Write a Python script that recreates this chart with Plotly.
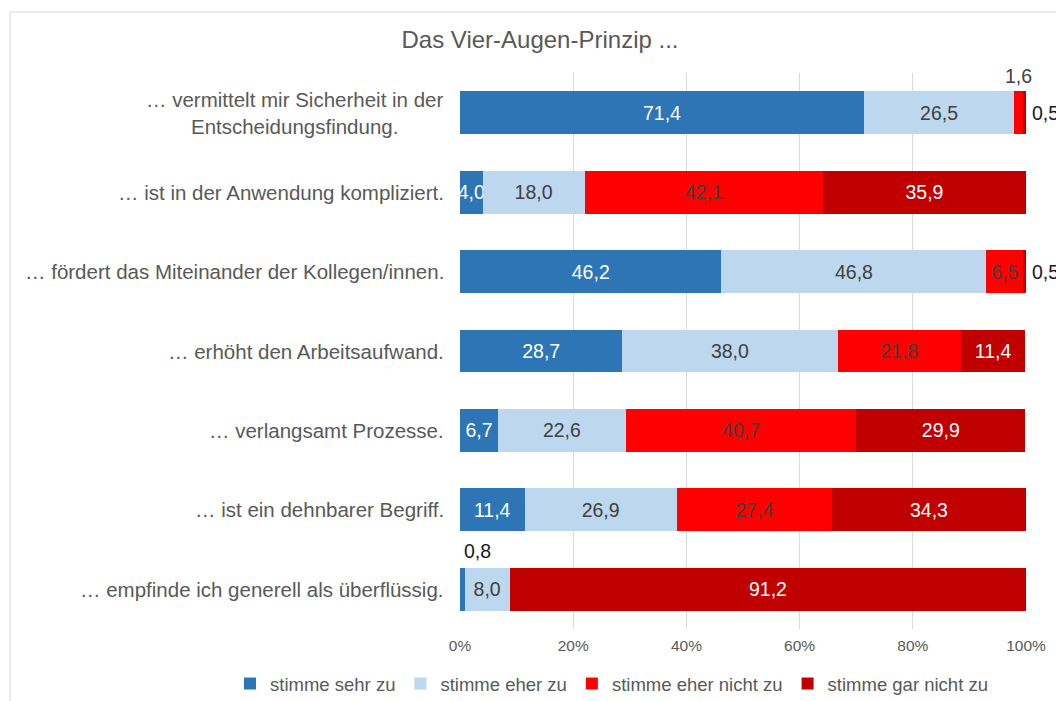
import plotly.graph_objects as go

categories = [
    "… vermittelt mir Sicherheit in der<br>Entscheidungsfindung.",
    "… ist in der Anwendung kompliziert.",
    "… fördert das Miteinander der Kollegen/innen.",
    "… erhöht den Arbeitsaufwand.",
    "… verlangsamt Prozesse.",
    "… ist ein dehnbarer Begriff.",
    "… empfinde ich generell als überflüssig.",
]
series_names = ["stimme sehr zu", "stimme eher zu", "stimme eher nicht zu", "stimme gar nicht zu"]
sehr_zu = [71.4, 4.0, 46.2, 28.7, 6.7, 11.4, 0.8]
eher_zu = [26.5, 18.0, 46.8, 38.0, 22.6, 26.9, 8.0]
eher_nicht = [1.6, 42.1, 6.5, 21.8, 40.7, 27.4, 0.0]
gar_nicht = [0.5, 35.9, 0.5, 11.4, 29.9, 34.3, 91.2]
tick_vals = [0, 20, 40, 60, 80, 100]
tick_text = ["0%", "20%", "40%", "60%", "80%", "100%"]

colors = ["#2E75B6", "#BDD7EE", "#FF0000", "#C00000"]
text_colors = ["#FFFFFF", "#404040", "#404040", "#FFFFFF"]
FONT = "Liberation Sans, Arial, sans-serif"
LBL = 19.5

series = [sehr_zu, eher_zu, eher_nicht, gar_nicht]
fig = go.Figure()

def fmt(v):
    return f"{v:.1f}".replace(".", ",")

outside = []
for si, vals in enumerate(series):
    texts = []
    for ri, v in enumerate(vals):
        if v <= 0:
            texts.append("")
        elif v < 2.0:
            texts.append("")
            outside.append((si, ri))
        else:
            texts.append(fmt(v))
    fig.add_trace(go.Bar(
        y=categories, x=vals, name=series_names[si], orientation="h",
        marker=dict(color=colors[si], line=dict(width=0)),
        text=texts, textposition="inside", insidetextanchor="middle",
        textangle=0,
        textfont=dict(family=FONT, size=LBL, color=text_colors[si]),
        hoverinfo="skip",
    ))

annotations = []
for si, ri in outside:
    v = series[si][ri]
    start = sum(series[k][ri] for k in range(si))
    if si == 3:
        annotations.append(dict(x=start + v, y=categories[ri], xref="x", yref="y",
                                text=fmt(v), showarrow=False, xanchor="left", xshift=4,
                                font=dict(family=FONT, size=LBL, color="#1a1a1a")))
    elif si == 0:
        annotations.append(dict(x=start + v / 2, y=categories[ri], xref="x", yref="y",
                                text=fmt(v), showarrow=False, xanchor="left", yshift=38,
                                font=dict(family=FONT, size=LBL, color="#1a1a1a")))
    else:
        annotations.append(dict(x=start + v / 2, y=categories[ri], xref="x", yref="y",
                                text=fmt(v), showarrow=False, xanchor="center", yshift=37,
                                font=dict(family=FONT, size=LBL, color="#404040")))

for c in categories:
    annotations.append(dict(x=-0.025, y=c, xref="paper", yref="y", text=c,
                            showarrow=False, xanchor="right", align="center",
                            font=dict(family=FONT, size=20.5, color="#595959")))

n = len(categories)
fig.update_layout(
    barmode="stack",
    bargap=0.46,
    width=1056, height=701,
    margin=dict(l=460, r=30, t=73, b=72, autoexpand=False),
    paper_bgcolor="white", plot_bgcolor="white",
    font=dict(family=FONT, color="#595959"),
    title=dict(text="Das Vier-Augen-Prinzip ...", xref="container", yref="container",
               x=540 / 1056, y=1 - 40 / 701, xanchor="center", yanchor="middle",
               automargin=False,
               font=dict(family=FONT, size=24, color="#595959")),
    xaxis=dict(range=[0, 100], tickvals=tick_vals, ticktext=tick_text,
               showgrid=True, gridcolor="#D9D9D9", gridwidth=1, zeroline=False,
               showline=False, ticks="", automargin=False, ticklabelstandoff=5,
               tickfont=dict(family=FONT, size=15.5, color="#595959"),
               fixedrange=True),
    yaxis=dict(range=[n - 0.5, -0.5], autorange=False, showticklabels=False, showgrid=False,
               zeroline=False, showline=False, ticks="", automargin=False),
    showlegend=True,
    legend=dict(orientation="h", xref="paper", yref="paper",
                x=(230 - 460) / 566, y=(629 - 684) / 556, xanchor="left", yanchor="middle",
                font=dict(family=FONT, size=18.5, color="#595959"),
                traceorder="normal", itemwidth=30, bgcolor="rgba(0,0,0,0)"),
    uniformtext=dict(minsize=LBL, mode="show"),
    annotations=annotations,
    shapes=[dict(type="rect", xref="paper", yref="paper",
                 x0=(10 - 460) / 566, x1=(1070 - 460) / 566,
                 y0=(629 - 712) / 556, y1=(629 - 12) / 556,
                 line=dict(color="#D9D9D9", width=1), fillcolor="rgba(0,0,0,0)",
                 layer="below")],
)

fig.write_html("out.html", config={"displayModeBar": False},
               post_script="document.body.style.margin='0px';")
